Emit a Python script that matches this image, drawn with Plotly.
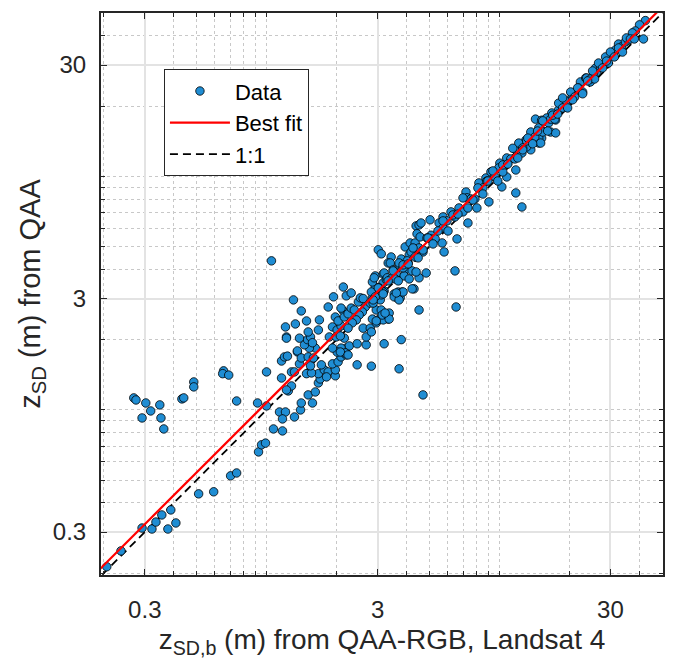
import plotly.graph_objects as go

# ---- data (metres) ----
x_sparse = [0.206, 0.237, 0.292, 0.322, 0.335, 0.355, 0.388, 0.377, 0.408, 0.511, 0.593, 0.701, 0.744,
            0.269, 0.275, 0.303, 0.318, 0.292, 0.348, 0.352, 0.362, 0.433, 0.441, 0.487, 0.487, 0.654, 0.648, 0.688, 0.744,
            0.915, 1.0, 1.0, 0.924, 0.952, 0.99, 1.071, 1.171, 1.137, 1.206, 1.171, 1.318, 1.16, 1.16, 1.194, 1.218, 1.357, 1.28, 1.318, 1.24, 1.28,
            1.05, 3.02, 3.11, 3.43, 3.33, 4.70, 4.52, 6.52, 6.45, 11.77, 12.5, 14.3, 42.4, 40.0, 41.6]
y_sparse = [0.213, 0.249, 0.312, 0.309, 0.331, 0.355, 0.373, 0.309, 0.328, 0.437, 0.446, 0.522, 0.537,
            1.126, 1.103, 1.071, 0.990, 0.924, 1.051, 0.924, 0.829, 1.115, 1.126, 1.318, 1.255, 1.47, 1.43, 1.41, 1.092,
            1.071, 1.040, 1.455, 0.661, 0.709, 0.721, 0.829, 0.813, 0.980, 0.980, 0.915, 0.933, 1.37, 1.62, 1.687, 2.054, 1.772, 1.455, 1.455, 1.206, 1.267,
            4.35, 4.85, 4.66, 4.52, 4.26, 1.16, 2.68, 2.76, 3.94, 8.5, 7.40, 17.6, 46.5, 44.6, 38.8]

x_mid = [1.40, 1.41, 1.51, 1.575, 1.62, 1.67, 1.70, 1.67, 1.77, 1.84, 1.81, 1.975, 1.975, 1.92, 2.03, 2.09, 2.16, 2.20, 2.20, 2.267,
         2.45, 2.82, 2.68, 2.45, 3.20, 3.79, 3.71, 1.218, 1.23, 1.357, 1.385, 1.41, 1.51, 1.485, 1.56, 1.545, 1.59, 1.72, 1.62, 1.528,
         1.455, 1.50, 1.545, 1.575, 1.51, 1.385, 1.33, 1.206, 1.218, 1.41, 1.305, 1.485, 1.67, 1.687, 1.84, 1.94, 1.92, 2.01, 2.09, 1.975,
         2.03, 2.137, 2.09, 2.20, 2.137, 2.31, 2.158, 2.24, 2.31, 2.382, 2.48, 2.53, 2.60, 2.655, 2.58, 2.50, 2.43, 2.335, 2.24, 2.158,
         2.09, 2.01, 1.92, 1.861, 1.99, 2.075, 2.18, 2.075, 2.24, 2.60, 2.68, 2.79, 2.82, 2.96, 3.02, 3.14, 3.33, 3.364, 3.17, 2.85,
         2.96, 2.79, 2.85, 2.90, 2.93, 2.85, 2.93, 3.08, 3.11, 3.20, 3.08, 3.17, 3.17, 3.27, 3.40, 3.50, 3.61, 3.71, 3.79, 3.94,
         4.14, 4.35, 4.30, 4.10, 4.06, 3.94, 3.90, 4.10, 4.22, 4.30, 3.68, 3.82, 3.534, 3.64, 3.71, 4.39, 4.43]
y_mid = [1.0, 1.071, 1.16, 1.071, 1.194, 1.305, 1.357, 1.43, 1.485, 1.455, 1.385, 1.40, 1.485, 1.575, 1.606, 1.687, 1.755, 1.72, 1.84, 1.88,
         1.56, 1.54, 1.90, 1.92, 1.92, 2.0, 1.50, 1.218, 1.70, 1.79, 1.575, 1.67, 1.687, 1.43, 1.44, 1.545, 1.67, 1.56, 1.84, 1.84,
         1.90, 2.0, 2.054, 1.94, 2.158, 2.03, 2.335, 2.267, 2.03, 2.655, 2.96, 2.405, 2.20, 2.43, 2.76, 3.05, 2.267, 2.20, 2.29, 2.50,
         2.405, 2.655, 2.73, 3.08, 3.36, 3.17, 2.50, 2.58, 2.73, 2.68, 2.90, 3.02, 3.0, 2.76, 2.63, 2.55, 2.43, 2.36, 2.24, 2.03,
         1.84, 1.77, 1.84, 2.054, 2.054, 2.075, 1.755, 1.77, 1.72, 2.24, 2.054, 2.24, 2.158, 2.36, 2.43, 2.55, 2.45, 2.60, 2.43, 2.45,
         2.68, 2.87, 3.02, 3.17, 3.36, 3.534, 3.75, 2.96, 3.11, 3.23, 3.36, 3.50, 3.82, 3.61, 4.26, 3.98, 3.82, 4.18, 4.43, 4.99,
         5.19, 5.19, 4.75, 4.61, 4.26, 3.98, 3.75, 3.64, 3.94, 3.30, 3.20, 3.20, 3.14, 3.02, 3.08, 6.14, 5.68]

x_upper = [15.2, 3.20, 2.90, 4.52, 4.61, 4.57, 5.04, 5.09, 5.73, 7.19, 8.76, 10.05, 11.77, 13.0,
           3.75, 3.86, 4.22, 4.52, 4.39, 4.85, 5.79, 5.68, 6.58, 7.33, 8.01, 9.02, 10.25, 10.76, 11.77, 13.65, 14.77, 15.2,
           2.87, 3.11, 3.14, 2.96, 3.364, 3.23, 3.534, 3.71, 3.61,
           38.4, 37.3, 32.5, 33.5, 34.8, 28.6, 26.2, 25.4, 29.4, 22.3, 21.9, 20.4, 20.2, 18.5, 17.98, 16.8, 17.45, 16.29, 16.6, 17.45,
           15.2, 14.77, 13.8, 13.38, 15.05, 13.1, 12.12, 11.77, 12.5, 24.6, 25.9, 31.5, 35.86, 23.5, 27.2]
y_upper = [17.4, 3.86, 3.68, 6.2, 6.32, 5.51, 6.52, 5.60, 6.71, 8.58, 9.85, 11.4, 13.0, 14.3,
           3.02, 3.20, 3.30, 3.68, 3.90, 3.86, 4.75, 5.19, 5.40, 6.32, 7.33, 7.78, 9.02, 9.95, 10.66, 13.0, 13.9, 14.6,
           2.87, 2.68, 2.55, 2.405, 2.45, 2.60, 3.05, 2.96, 3.17,
           42.0, 41.2, 36.9, 35.9, 37.7, 32.5, 28.0, 27.8, 30.6, 25.4, 23.5, 22.8, 21.3, 19.85, 19.3, 18.7, 17.45, 16.95, 15.5, 15.36,
           15.8, 14.6, 14.77, 14.06, 13.9, 13.38, 13.0, 12.12, 12.6, 25.4, 29.1, 34.8, 38.4, 26.4, 29.44]

x_band = [2.82, 2.93, 3.048, 3.17, 3.30, 3.43, 3.57, 3.71, 3.86, 4.02, 4.18, 4.35, 4.52, 4.70, 4.89, 5.09, 5.30, 5.51, 5.73, 5.96,
          6.20, 6.45, 6.71, 6.98, 7.26, 7.55, 7.85, 8.17, 8.50, 8.84, 9.20, 9.57, 9.95, 10.35, 10.76, 11.20, 11.65, 12.12, 12.6, 13.1,
          13.65, 14.2, 14.77, 15.36, 15.97, 16.6, 17.3, 17.98, 18.7, 19.45, 20.25, 21.06, 21.9, 22.8, 23.7, 24.65, 25.65, 26.68, 27.75, 28.87,
          30.0, 31.2, 32.5, 33.8, 35.15, 36.55, 38.0,
          2.87, 3.02, 3.17, 3.33, 3.50, 3.68, 3.86, 4.06, 4.26, 4.48, 4.70, 4.94, 5.19, 5.45, 5.73, 6.02, 6.32, 6.64, 6.98, 7.33,
          7.70, 8.09, 8.50, 8.93, 9.38, 9.85, 10.35, 10.87, 11.42, 12.0, 12.6, 13.25, 13.9, 14.6, 15.36, 16.13, 16.95, 17.8, 18.7, 19.65,
          20.65, 21.7, 22.8, 23.95, 25.15]
y_band = [3.20, 3.05, 3.33, 3.20, 3.68, 3.64, 3.64, 4.26, 4.06, 4.35, 4.75, 4.52, 4.94, 4.75, 5.45, 5.40, 5.41, 6.32, 6.02, 6.45,
          7.05, 6.71, 7.33, 7.05, 8.10, 8.01, 8.01, 9.38, 8.93, 9.56, 10.46, 9.95, 10.88, 10.45, 12.0, 11.88, 11.88, 13.9, 13.25, 14.2,
          15.5, 14.77, 16.15, 15.5, 17.8, 17.6, 17.6, 20.6, 19.65, 21.0, 23.0, 21.9, 23.9, 23.0, 26.4, 26.15, 26.15, 30.6, 29.15, 31.2,
          34.1, 32.5, 35.5, 34.1, 39.2, 38.8, 38.8,
          2.96, 3.33, 3.14, 3.57, 3.94, 3.57, 4.18, 4.22, 4.94, 4.48, 4.84, 5.45, 5.14, 5.84, 6.45, 5.84, 6.84, 6.90, 8.09, 7.33,
          7.93, 8.93, 8.41, 9.56, 10.56, 9.56, 11.2, 11.3, 13.2, 12.0, 13.0, 14.6, 13.8, 15.65, 17.3, 15.65, 18.3, 18.5, 21.7, 19.65,
          21.3, 23.95, 22.6, 25.65, 28.3]

x_data = x_sparse + x_mid + x_upper + x_band
y_data = y_sparse + y_mid + y_upper + y_band

# best fit in log space: y = fit_a * x ** fit_b
fit_a = 1.0755
fit_b = 0.9966
line_x = [0.18, 55.0]
fit_y = [fit_a * v ** fit_b for v in line_x]

major_ticks = [0.3, 3, 30]
major_labels = ["0.3", "3", "30"]
minor_ticks = [0.2, 0.4, 0.5, 0.6, 0.7, 0.8, 0.9, 1, 2, 4, 5, 6, 7, 8, 9, 10, 20, 40]

FONT = "Liberation Sans, Arial, Helvetica, sans-serif"
AX = "#262626"

fig = go.Figure()
fig.add_trace(go.Scatter(x=line_x, y=line_x, mode="lines", name="1:1", legendrank=3,
                         line=dict(color="black", width=1.8, dash="8px,5px")))
fig.add_trace(go.Scatter(x=x_data, y=y_data, mode="markers", name="Data", legendrank=1,
                         marker=dict(size=8.5, color="#1f8dd3", line=dict(color="black", width=0.8))))
fig.add_trace(go.Scatter(x=line_x, y=fit_y, mode="lines", name="Best fit", legendrank=2,
                         line=dict(color="#ff0000", width=2.2)))

axis_common = dict(
    type="log",
    tickvals=major_ticks, ticktext=major_labels,
    ticks="inside", ticklen=6, tickwidth=1, tickcolor=AX,
    showline=True, linecolor=AX, linewidth=2, mirror="allticks",
    showgrid=True, gridcolor="#e3e3e3", gridwidth=1.5,
    zeroline=False,
    tickfont=dict(family=FONT, size=24, color=AX),
    minor=dict(tickvals=minor_ticks, ticks="inside", ticklen=4, tickcolor=AX,
               showgrid=True, gridcolor="#c8c8c8", griddash="dot", gridwidth=1),
)

fig.update_xaxes(**axis_common, range=[-0.711, 1.703], ticklabelstandoff=12,
                 title=dict(text="z<sub>SD,b</sub> (m) from QAA-RGB, Landsat 4",
                            font=dict(family=FONT, size=28, color=AX), standoff=9))
fig.update_yaxes(**axis_common, range=[-0.707, 1.700], ticklabelstandoff=8,
                 title=dict(text="z<sub>SD</sub> (m) from QAA",
                            font=dict(family=FONT, size=29, color=AX), standoff=4))

fig.update_layout(
    width=673, height=659,
    margin=dict(l=101, r=8, t=13, b=84),
    plot_bgcolor="white", paper_bgcolor="white",
    showlegend=True,
    legend=dict(x=0.112, y=0.90, xanchor="left", yanchor="top",
                bgcolor="white", bordercolor=AX, borderwidth=1,
                font=dict(family=FONT, size=22, color="black"),
                tracegroupgap=0, itemwidth=60),
)

fig.write_html("out.html")
